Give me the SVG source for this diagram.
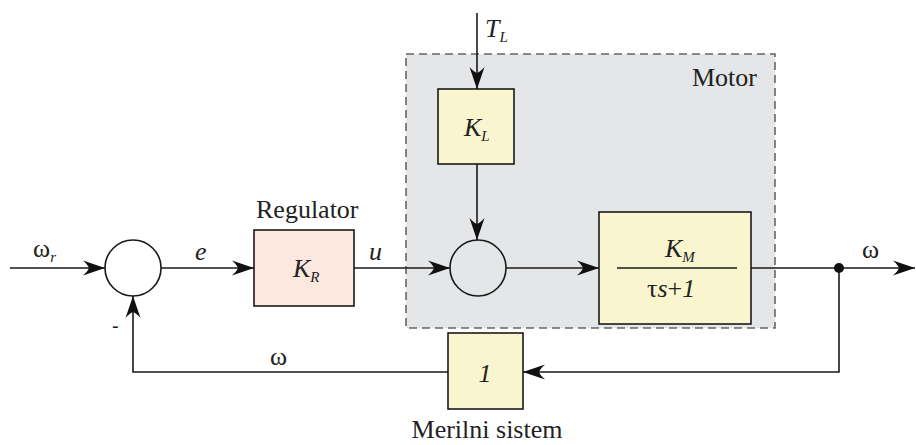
<svg xmlns="http://www.w3.org/2000/svg" width="916" height="445" viewBox="0 0 916 445">
<style>
.i{font-style:italic}
.sub{font-size:15px;font-style:italic}
.blk{stroke:#1a1a1a;stroke-width:1.6}
.ln{fill:none;stroke:#1a1a1a;stroke-width:1.6}
.y{fill:#F9F6CF}
</style>
<defs>
<marker id="ah" markerUnits="userSpaceOnUse" markerWidth="24" markerHeight="16" viewBox="-23 -8 24 16" refX="0" refY="0" orient="auto">
<path d="M0,0 L-22,-7.5 Q-17,-3 -16,0 Q-17,3 -22,7.5 Z" fill="#111"/>
</marker>
</defs>
<rect x="0" y="0" width="916" height="445" fill="#fff"/>
<g font-family="Liberation Serif, serif" font-size="26" fill="#222">
<g id="motor">
<rect x="406" y="54" width="369" height="274" fill="#E5E6E8" stroke="#666" stroke-width="1.6" stroke-dasharray="8,5"/>
<text x="692" y="86">Motor</text>
</g>
<g id="connectors">
<line class="ln" x1="10" y1="268" x2="105" y2="268" marker-end="url(#ah)"/>
<line class="ln" x1="161" y1="268" x2="254" y2="268" marker-end="url(#ah)"/>
<line class="ln" x1="354" y1="268" x2="450" y2="268" marker-end="url(#ah)"/>
<line class="ln" x1="506" y1="268" x2="599" y2="268" marker-end="url(#ah)"/>
<line class="ln" x1="477" y1="13" x2="477" y2="89" marker-end="url(#ah)"/>
<line class="ln" x1="477" y1="164" x2="477" y2="240" marker-end="url(#ah)"/>
<line class="ln" x1="751" y1="268" x2="915" y2="268" marker-end="url(#ah)"/>
<polyline class="ln" points="839,268 839,372 523,372" marker-end="url(#ah)"/>
<polyline class="ln" points="448,372 133,372 133,296" marker-end="url(#ah)"/>
<circle cx="839" cy="268" r="5" fill="#111"/>
<text x="33" y="257">ω<tspan class="sub" dy="5">r</tspan></text>
<text class="i" x="195" y="260">e</text>
<text class="i" x="369" y="260">u</text>
<text x="862" y="258">ω</text>
<text x="270" y="365">ω</text>
<text class="i" x="485" y="37">T<tspan class="sub" dy="5">L</tspan></text>
<text x="112" y="333" font-family="Liberation Sans, sans-serif" font-size="20">-</text>
</g>
<g id="sum1">
<circle cx="133" cy="268" r="28" fill="#fff" class="blk"/>
</g>
<g id="sum2">
<circle cx="478" cy="268" r="28" fill="none" class="blk"/>
</g>
<g id="regulator">
<rect x="254" y="230" width="100" height="76" fill="#FCE8DE" class="blk"/>
<text x="256" y="218">Regulator</text>
<text class="i" x="293" y="277">K<tspan class="sub" dy="5">R</tspan></text>
</g>
<g id="kl">
<rect x="438" y="89" width="76" height="75" class="y blk"/>
<text class="i" x="464" y="136">K<tspan class="sub" dy="5">L</tspan></text>
</g>
<g id="km">
<rect x="599" y="212" width="152" height="112" class="y blk"/>
<text class="i" x="665" y="257">K<tspan class="sub" dy="5">M</tspan></text>
<line x1="617" y1="268" x2="737" y2="268" class="blk"/>
<text x="647" y="297">τ<tspan class="i">s</tspan>+<tspan class="i">1</tspan></text>
</g>
<g id="merilni">
<rect x="448" y="333" width="75" height="76" class="y blk"/>
<text class="i" x="485" y="382" text-anchor="middle">1</text>
<text x="487" y="438" text-anchor="middle">Merilni sistem</text>
</g>
</g>
</svg>
